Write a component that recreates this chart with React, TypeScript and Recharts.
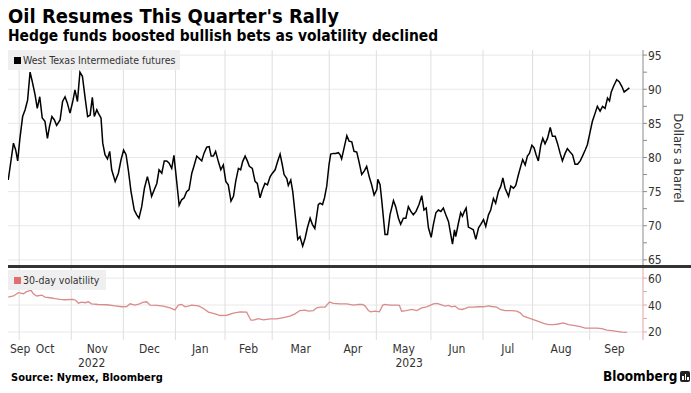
import React from 'react';
import { LineChart, Line, XAxis, YAxis, CartesianGrid } from 'recharts';

const FONT = '"DejaVu Sans Condensed", "DejaVu Sans", sans-serif';
const INK = '#333333';
const OIL = '#000000';
const VOL = '#d98c8c';
const VOL_KEY = '#e06f72';

// x = trading-day index, 0 = Mon Sep 26 2022
const wti: [number, number][] = [
  [0.1, 76.7], [2.2, 82.1], [3.1, 81.1], [3.9, 79.5], [4.8, 82.8], [5.9, 86.0], [6.9, 87.0], [7.9, 88.4], [8.9, 92.5], [9.8, 91.1],
  [10.9, 89.2], [11.8, 87.2], [12.8, 88.9], [13.8, 85.8], [14.9, 85.3], [15.9, 82.8], [16.7, 84.5], [17.7, 86.0], [18.7, 85.5], [19.6, 84.7],
  [21.0, 85.5], [22.0, 88.2], [23.0, 88.9], [23.9, 88.0], [25.0, 86.5], [26.1, 88.2], [27.0, 89.9], [28.0, 88.2], [29.0, 92.5], [30.0, 91.9],
  [31.1, 88.7], [32.1, 86.0], [33.1, 86.2], [34.0, 88.8], [34.8, 86.0], [35.8, 87.0], [36.4, 86.5], [37.5, 85.8], [38.2, 82.1], [39.1, 80.4],
  [40.1, 79.8], [41.0, 80.9], [41.8, 78.2], [43.2, 76.5], [44.5, 77.7], [45.6, 79.7], [46.6, 81.1], [47.6, 80.4], [48.5, 78.2], [49.6, 75.0],
  [50.9, 72.3], [51.9, 71.6], [52.8, 71.1], [53.9, 72.8], [55.0, 75.5], [56.2, 77.2], [57.0, 76.0], [57.9, 74.3], [59.0, 75.3], [60.0, 76.2],
  [60.9, 78.2], [62.0, 77.7], [63.0, 79.5], [64.0, 79.5], [64.9, 79.2], [66.0, 78.4], [66.9, 80.3], [68.0, 76.5], [69.0, 73.0], [70.0, 73.8],
  [71.0, 74.1], [72.0, 75.0], [73.0, 75.3], [74.1, 77.7], [75.1, 78.9], [76.1, 80.2], [77.0, 79.9], [78.1, 79.5], [79.0, 80.6], [80.1, 81.5],
  [81.1, 81.6], [81.9, 80.2], [82.8, 80.2], [83.7, 80.9], [84.8, 79.4], [85.8, 78.2], [86.8, 78.9], [87.8, 76.5], [88.8, 76.0], [89.9, 73.6],
  [90.9, 74.3], [91.8, 76.5], [92.9, 78.4], [93.8, 78.2], [94.6, 79.4], [95.6, 80.2], [96.5, 79.5], [97.3, 78.7], [98.5, 78.4], [99.6, 76.5],
  [100.5, 76.2], [101.6, 74.1], [102.6, 75.3], [103.6, 76.2], [104.6, 76.0], [105.7, 77.2], [106.6, 77.7], [107.7, 78.2], [108.7, 79.4], [109.7, 80.5],
  [110.6, 78.9], [111.3, 77.5], [112.4, 76.9], [113.0, 75.9], [114.0, 76.7], [114.8, 75.0], [115.7, 71.9], [116.8, 68.0], [117.7, 68.4], [118.8, 67.0],
  [119.8, 68.2], [120.7, 69.7], [121.8, 71.1], [122.7, 70.2], [123.7, 69.6], [124.5, 71.6], [125.1, 73.1], [125.8, 73.3], [126.8, 73.1], [127.6, 74.1],
  [128.5, 75.8], [129.4, 78.9], [130.1, 80.5], [131.2, 80.6], [132.1, 80.6], [133.2, 80.7], [133.9, 80.4], [134.5, 79.8], [135.5, 81.4], [136.6, 83.2],
  [137.5, 82.4], [138.6, 82.3], [139.5, 80.9], [140.6, 80.8], [141.5, 79.4], [142.6, 77.5], [143.6, 78.0], [144.6, 78.7], [145.6, 77.2], [146.6, 76.0],
  [147.6, 74.5], [148.7, 75.3], [149.1, 76.8], [150.0, 76.0], [150.7, 73.6], [152.0, 68.7], [153.0, 68.7], [154.0, 71.6], [155.4, 73.7], [156.3, 72.8],
  [157.4, 71.1], [158.3, 70.2], [159.4, 71.1], [160.4, 71.1], [161.4, 72.8], [162.4, 72.1], [163.4, 71.6], [164.5, 72.1], [165.7, 73.1], [166.8, 74.4],
  [167.7, 72.3], [168.6, 72.6], [169.5, 69.7], [170.6, 68.3], [171.5, 70.2], [172.5, 71.9], [173.5, 72.3], [174.5, 72.1], [175.5, 72.6], [176.5, 71.6],
  [177.6, 70.6], [178.5, 68.7], [179.2, 67.3], [180.0, 69.4], [180.5, 68.4], [181.6, 70.4], [182.5, 71.9], [183.2, 71.4], [184.0, 72.1], [184.7, 72.6],
  [185.6, 69.8], [186.6, 69.6], [187.6, 69.4], [188.6, 68.0], [189.7, 69.7], [190.6, 70.2], [191.7, 70.9], [192.6, 69.9], [193.7, 71.6], [194.6, 72.3],
  [195.7, 74.0], [196.6, 73.3], [197.7, 75.0], [198.7, 75.8], [199.5, 77.0], [200.4, 75.5], [201.8, 74.3], [202.7, 75.8], [203.8, 75.5], [204.7, 75.9],
  [205.8, 77.5], [206.7, 78.7], [207.5, 79.7], [208.5, 78.9], [209.4, 80.2], [210.2, 80.6], [211.2, 81.8], [212.1, 81.4], [212.9, 80.4], [213.8, 79.5],
  [214.8, 81.8], [215.6, 82.8], [216.5, 82.0], [217.5, 82.8], [218.6, 84.4], [219.5, 83.1], [220.6, 83.1], [221.5, 82.1], [222.6, 80.6], [223.5, 79.5],
  [224.6, 80.6], [225.5, 81.3], [226.6, 80.8], [227.6, 80.4], [228.6, 79.0], [229.6, 79.0], [230.7, 79.5], [231.6, 80.2], [232.7, 81.1], [233.6, 81.9],
  [234.7, 83.8], [235.6, 85.3], [236.7, 86.5], [237.6, 87.5], [238.7, 86.8], [239.7, 87.5], [240.7, 87.2], [241.7, 88.7], [242.5, 88.3], [243.2, 89.6],
  [244.1, 90.4], [245.4, 91.4], [246.4, 91.1], [247.5, 90.4], [248.4, 89.6], [249.5, 89.9], [250.5, 90.2],
];

const vol30: [number, number][] = [
  [0.1, 45.9], [2.2, 46.7], [4.2, 49.2], [6.2, 48.4], [7.5, 49.9], [9.3, 50.9], [10.2, 48.4], [11.6, 46.7], [13.6, 47.4], [14.9, 45.9],
  [16.9, 45.4], [19.0, 44.7], [21.0, 44.2], [23.0, 43.9], [26.3, 44.2], [27.4, 43.4], [28.4, 41.4], [29.7, 42.2], [31.1, 41.7], [32.4, 42.4],
  [33.7, 40.9], [36.4, 40.4], [39.8, 40.2], [43.2, 39.4], [45.8, 38.7], [47.9, 38.9], [49.2, 40.9], [51.2, 39.9], [53.0, 40.9], [54.6, 42.2],
  [55.9, 42.4], [57.3, 39.9], [60.0, 39.7], [62.6, 39.2], [65.3, 37.9], [67.3, 36.4], [68.7, 39.9], [70.0, 40.4], [71.4, 38.7], [74.1, 39.9],
  [76.8, 39.4], [78.8, 37.4], [80.8, 34.7], [83.5, 33.4], [85.5, 32.2], [88.2, 32.4], [90.9, 33.9], [93.6, 34.9], [96.2, 34.7], [97.9, 28.7],
  [98.9, 28.7], [100.9, 29.9], [103.0, 28.9], [105.7, 29.7], [108.3, 29.7], [111.0, 30.7], [113.7, 31.7], [115.7, 33.4], [117.7, 35.9], [119.8, 36.2],
  [121.1, 35.4], [123.1, 35.9], [124.5, 37.9], [125.8, 38.4], [127.8, 38.4], [129.6, 42.2], [131.2, 41.2], [133.9, 40.9], [136.6, 40.9], [139.3, 39.9],
  [141.3, 40.4], [143.0, 40.4], [144.0, 39.2], [145.3, 35.9], [146.2, 34.9], [148.0, 35.4], [149.7, 34.9], [151.1, 39.9], [152.0, 40.4], [154.0, 39.9],
  [156.7, 39.9], [157.8, 39.7], [158.7, 35.4], [160.5, 35.9], [162.8, 36.7], [164.8, 35.9], [166.8, 37.9], [168.8, 38.7], [171.5, 40.9], [172.9, 41.2],
  [174.2, 40.4], [176.2, 39.2], [177.6, 39.7], [178.9, 38.7], [180.2, 39.2], [181.6, 37.2], [182.9, 36.7], [184.3, 37.4], [185.6, 38.4], [187.6, 38.4],
  [189.7, 38.7], [191.7, 38.7], [193.7, 39.4], [195.0, 38.9], [197.0, 38.4], [198.4, 36.7], [200.4, 35.9], [203.1, 35.9], [205.1, 35.4], [206.5, 34.2],
  [207.8, 31.7], [209.8, 30.4], [211.8, 29.2], [213.8, 27.9], [215.9, 26.4], [217.9, 25.4], [219.9, 25.4], [221.9, 25.9], [223.9, 26.7], [225.9, 25.4],
  [228.0, 24.9], [230.7, 23.9], [232.7, 22.9], [235.4, 22.9], [237.4, 22.9], [239.4, 22.4], [241.4, 21.4], [243.4, 20.9], [245.4, 20.4], [247.5, 19.9],
  [249.5, 19.7],
];

// first trading day of each month (Sep 2022 .. Sep 2023), last entry = Oct 2 2023
const monthNames = ['Sep', 'Oct', 'Nov', 'Dec', 'Jan', 'Feb', 'Mar', 'Apr', 'May', 'Jun', 'Jul', 'Aug', 'Sep'];
const monthStarts = [0, 5, 26, 47, 68, 88, 107, 130, 149, 171, 192, 212, 235, 255];
const yearLabels = ['2022', '2023'];
const yearStartMonth = [0, 4];

const priceTicks = [65, 70, 75, 80, 85, 90, 95];
const volTicks = [20, 40, 60];
const X_MAX = 256;

const oilData = wti.map(([i, p]) => ({ i, p }));
const volData = vol30.map(([i, v]) => ({ i, v }));

const bounds = monthStarts.map((s, k) => (k === 0 ? 0 : s - 0.5));
const monthLines = bounds.slice(1, -1);
const monthMids = monthNames.map((_, k) => (bounds[k] + bounds[k + 1]) / 2);
const yearMids = yearStartMonth.map((m, k) => {
  const a = bounds[m];
  const b = k + 1 < yearStartMonth.length ? bounds[yearStartMonth[k + 1]] : X_MAX;
  return (a + b) / 2;
});

const withMinor = (major: number[]) => {
  const out: number[] = [];
  major.forEach((t, k) => {
    out.push(t);
    if (k < major.length - 1) out.push((t + major[k + 1]) / 2);
  });
  return out;
};

const axisText = { fontFamily: FONT, fontSize: 12, fill: INK };

function RightTick({ x, y, payload, majors }: any) {
  if (!majors.includes(payload.value)) return <g />;
  return (
    <text x={x} y={y} dy={4.5} textAnchor="start" style={axisText}>
      {payload.value}
    </text>
  );
}

function MonthTick({ x, y, payload }: any) {
  const v = payload.value;
  const yi = yearMids.indexOf(v);
  if (yi >= 0) {
    return (
      <text x={x} y={y + 26.5} textAnchor="middle" style={axisText}>
        {yearLabels[yi]}
      </text>
    );
  }
  const name = monthNames[monthMids.indexOf(v)];
  const half = 10;
  const clamped = x - half < 10;
  return (
    <text x={clamped ? 10 : x} y={y + 12.5} textAnchor={clamped ? 'start' : 'middle'} style={axisText}>
      {name}
    </text>
  );
}

function KeyBox({ top, width, color, label }: { top: number; width: number; color: string; label: string }) {
  return (
    <div style={{
      position: 'absolute', left: 8, top, width, height: 20, background: 'rgba(238,238,238,0.92)',
      display: 'flex', alignItems: 'center', fontFamily: FONT, fontSize: 10.5, color: INK,
    }}>
      <span style={{ display: 'inline-block', width: 7, height: 7, background: color, marginLeft: 6, marginRight: 2 }} />
      {label}
    </div>
  );
}

export default function App() {
  return (
    <div style={{ position: 'relative', width: 691, height: 393, background: '#fff', overflow: 'hidden' }}>
      <style>{'body{margin:0}'}</style>
      <div style={{ position: 'absolute', left: 8, top: 6, fontFamily: FONT, fontWeight: 700, fontSize: 20, lineHeight: '20px', color: '#000', whiteSpace: 'nowrap' }}>
        Oil Resumes This Quarter's Rally
      </div>
      <div style={{ position: 'absolute', left: 8, top: 27.5, fontFamily: FONT, fontWeight: 700, fontSize: 15.4, lineHeight: '16px', color: '#000', whiteSpace: 'nowrap' }}>
        Hedge funds boosted bullish bets as volatility declined
      </div>

      <div style={{ position: 'absolute', left: 0, top: 0 }}>
        <LineChart width={691} height={266} data={oilData} margin={{ top: 50, right: 0, bottom: 0, left: 8 }}>
          <CartesianGrid vertical={false} horizontalValues={priceTicks} stroke="#e8e8e8" />
          <CartesianGrid horizontal={false} verticalValues={monthLines} stroke="#dedede" />
          <XAxis type="number" dataKey="i" domain={[0, X_MAX]} hide allowDataOverflow />
          <YAxis
            orientation="right" width={48} domain={[64.1, 95.75]} ticks={withMinor(priceTicks)} allowDataOverflow
            axisLine={{ stroke: '#8c8c8c' }} tickLine={{ stroke: '#8c8c8c' }} tickSize={4} tickMargin={1}
            tick={(p: any) => <RightTick {...p} majors={priceTicks} />} interval={0}
          />
          <Line type="linear" dataKey="p" stroke={OIL} strokeWidth={1.5} dot={false} isAnimationActive={false} />
        </LineChart>
      </div>

      <div style={{ position: 'absolute', left: 0, top: 266 }}>
        <LineChart width={691} height={110} data={volData} margin={{ top: 0, right: 0, bottom: 0, left: 8 }}>
          <CartesianGrid vertical={false} horizontalValues={volTicks} stroke="#e8e8e8" />
          <CartesianGrid horizontal={false} verticalValues={monthLines} stroke="#dedede" />
          <XAxis
            type="number" dataKey="i" domain={[0, X_MAX]} allowDataOverflow height={36}
            ticks={[...monthMids, ...yearMids]} interval={0} axisLine={false} tickLine={false}
            tickSize={0} tickMargin={0} tick={<MonthTick />}
          />
          <YAxis
            orientation="right" width={48} domain={[14, 69]} ticks={withMinor(volTicks)} allowDataOverflow
            axisLine={{ stroke: '#e3a5a5' }} tickLine={{ stroke: '#e3a5a5' }} tickSize={4} tickMargin={1}
            tick={(p: any) => <RightTick {...p} majors={volTicks} />} interval={0}
          />
          <Line type="linear" dataKey="v" stroke={VOL} strokeWidth={1.3} dot={false} isAnimationActive={false} />
        </LineChart>
      </div>

      <div style={{ position: 'absolute', left: 8, top: 264.5, width: 683, height: 3, background: '#333' }} />

      <KeyBox top={50} width={172} color={OIL} label="West Texas Intermediate futures" />
      <KeyBox top={270} width={98} color={VOL_KEY} label="30-day volatility" />

      <div style={{
        position: 'absolute', left: 678, top: 158, transform: 'translate(-50%, -50%)', writingMode: 'vertical-rl',
        fontFamily: FONT, fontSize: 13, color: INK, whiteSpace: 'nowrap',
      }}>
        Dollars a barrel
      </div>

      <div style={{ position: 'absolute', left: 11, top: 372, fontFamily: FONT, fontWeight: 700, fontSize: 11, lineHeight: '11px', color: '#000', whiteSpace: 'nowrap' }}>
        Source: Nymex, Bloomberg
      </div>
      <div style={{ position: 'absolute', left: 603, top: 368, display: 'flex', alignItems: 'center', fontFamily: FONT, fontWeight: 700, fontSize: 13.5, color: '#000' }}>
        Bloomberg
        <span style={{ display: 'inline-block', width: 10, height: 11, background: '#222', borderRadius: 2, marginLeft: 3, position: 'relative' }}>
          <span style={{ position: 'absolute', left: 2, bottom: 2, width: 1.5, height: 4, background: '#fff' }} />
          <span style={{ position: 'absolute', left: 4.5, bottom: 2, width: 1.5, height: 6, background: '#fff' }} />
          <span style={{ position: 'absolute', left: 7, bottom: 2, width: 1.5, height: 3, background: '#fff' }} />
        </span>
      </div>
    </div>
  );
}
